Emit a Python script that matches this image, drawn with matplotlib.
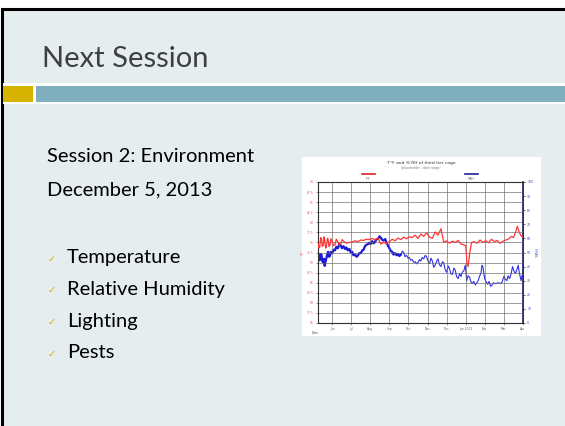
import matplotlib
matplotlib.use("Agg")
import matplotlib.pyplot as plt
from matplotlib.patches import Rectangle

# ---------------- data ----------------
slide_title = "Next Session"
session_line = "Session 2: Environment"
date_line = "December 5, 2013"
bullets = ["Temperature", "Relative Humidity", "Lighting", "Pests"]

chart_title = "T °F and % RH of third tier cage"
chart_subtitle = "(placeholder - date range)"
month_pos = [0, 1, 2, 3, 4, 5, 6, 7, 8, 9, 10]
month_labels = ["Jun", "Jul", "Aug", "Sep", "Oct", "Nov", "Dec", "Jan 2013", "Feb", "Mar", "Apr"]
temp_ticks = [55, 57.5, 60, 62.5, 65, 67.5, 70, 72.5, 75, 77.5, 80, 82.5, 85, 87.5, 90]
rh_ticks = [0, 10, 20, 30, 40, 50, 60, 70, 80, 90, 100]

temp_x = [-0.74, -0.69, -0.65, -0.60, -0.56, -0.52, -0.47, -0.43, -0.39, -0.34, -0.30, -0.25,
          -0.21, -0.16, -0.12, -0.06, 0.0, 0.08, 0.15, 0.22, 0.3, 0.38, 0.45, 0.52, 0.6,
          0.75, 0.9, 1.05, 1.2, 1.35, 1.5, 1.65, 1.8, 1.95, 2.1, 2.25, 2.4, 2.55, 2.7, 2.85,
          3.0, 3.15, 3.3, 3.45, 3.6, 3.75, 3.9, 4.05, 4.2, 4.35, 4.5, 4.65, 4.8, 4.95, 5.1,
          5.25, 5.4, 5.55, 5.7, 5.85, 6.0, 6.15, 6.3, 6.45, 6.6, 6.75, 6.9, 7.0, 7.06, 7.12,
          7.2, 7.3, 7.45, 7.6, 7.75, 7.9, 8.05, 8.2, 8.35, 8.5, 8.65, 8.8, 8.95, 9.1, 9.25,
          9.4, 9.5, 9.6, 9.7, 9.8, 9.9, 10.0]
temp_f = [75.0, 73.6, 73.8, 76.2, 76.0, 74.0, 74.2, 76.4, 75.6, 73.6, 73.9, 76.0,
          75.8, 74.0, 74.3, 75.9, 75.4, 74.2, 74.4, 75.8, 75.2, 74.3, 74.6, 75.7, 75.3,
          74.8, 75.0, 75.1, 75.4, 75.2, 75.6, 75.5, 75.8, 75.7, 76.0, 75.6, 76.1, 74.6, 75.0,
          74.7, 75.2, 75.8, 75.4, 76.1, 75.7, 76.3, 75.9, 76.4, 76.2, 76.8, 76.0, 77.1, 76.5,
          77.4, 76.3, 76.0, 77.6, 76.8, 78.4, 75.0, 75.4, 74.8, 75.3, 75.0, 75.5, 74.6, 74.4,
          74.2, 70.0, 69.0, 72.0, 75.0, 75.2, 74.8, 75.6, 75.0, 75.4, 74.9, 75.8, 75.2, 75.5,
          74.8, 75.3, 75.6, 75.9, 76.5, 76.2, 77.4, 79.0, 77.6, 76.6, 76.3]

rh_x = [-0.74, -0.70, -0.65, -0.60, -0.56, -0.52, -0.47, -0.43, -0.39, -0.34, -0.30, -0.25,
        -0.21, -0.16, -0.12, -0.06, 0.0, 0.08, 0.15, 0.22, 0.3, 0.38, 0.45, 0.52, 0.6, 0.68,
        0.75, 0.82, 0.9, 0.98, 1.05, 1.12, 1.2, 1.28, 1.35, 1.42, 1.5, 1.58, 1.65, 1.72, 1.8,
        1.88, 1.95, 2.02, 2.1, 2.18, 2.25, 2.32, 2.4, 2.48, 2.55, 2.62, 2.7, 2.78, 2.85, 2.92,
        3.0, 3.08, 3.15, 3.22, 3.3, 3.38, 3.45, 3.52, 3.6,
        3.68, 3.75, 3.82, 3.9, 3.98, 4.05, 4.12, 4.2, 4.28, 4.35, 4.42, 4.5, 4.58, 4.65, 4.72,
        4.8, 4.88, 4.95, 5.02, 5.1, 5.18, 5.25, 5.32, 5.4, 5.48, 5.55, 5.62, 5.7, 5.78, 5.85,
        5.92, 6.0, 6.08, 6.15, 6.22, 6.3, 6.38, 6.45, 6.52, 6.6, 6.68, 6.75, 6.82, 6.9, 6.98,
        7.05, 7.12, 7.2, 7.28, 7.35, 7.42, 7.5, 7.58, 7.65, 7.72, 7.8, 7.85, 7.9, 7.95, 8.0,
        8.08, 8.15, 8.22, 8.3, 8.38, 8.45, 8.52, 8.6, 8.68, 8.75, 8.82, 8.9, 8.95, 9.0, 9.08,
        9.15, 9.22, 9.3, 9.38, 9.45, 9.52, 9.6, 9.68, 9.75, 9.8, 9.85, 9.9, 9.95, 10.0]
rh_pct = [50.0, 46.5, 44.5, 49.0, 48.5, 44.0, 43.0, 45.5, 40.5, 44.0, 46.0, 49.0,
          50.5, 47.0, 47.5, 50.5, 49.5, 52.0, 51.5, 54.0, 53.0, 56.0, 55.0, 53.0, 54.5, 52.5,
          53.5, 51.5, 52.5, 50.0, 50.5, 48.0, 48.5, 47.0, 47.8, 49.5, 49.5, 51.5, 52.0, 54.5, 55.5,
          56.0, 57.0, 56.0, 58.0, 56.5, 57.5, 59.5, 59.5, 61.5, 60.5, 59.0, 58.5, 59.5, 57.0, 55.0,
          53.0, 51.0, 50.5, 48.5, 49.5, 48.0, 49.0, 47.5, 48.5,
          51.0, 50.0, 47.0, 48.0, 46.0, 46.5, 44.5, 45.0, 43.0, 43.5, 42.0, 43.0, 45.0, 44.0, 46.5,
          45.5, 48.0, 47.0, 44.0, 42.0, 46.0, 44.0, 39.5, 41.0, 44.0, 45.5, 41.5, 40.0, 43.5, 42.5,
          38.0, 36.0, 40.5, 38.5, 35.0, 34.5, 39.0, 37.5, 33.0, 31.5, 35.0, 33.0, 36.0, 37.0, 41.0,
          30.0, 33.5, 32.5, 29.0, 28.0, 29.5, 27.0, 28.5, 30.0, 33.0, 35.5, 41.0, 40.0, 35.0, 31.0,
          29.0, 27.5, 29.5, 26.0, 27.0, 28.5, 28.0, 28.0, 28.5, 28.3, 28.0, 29.0, 31.0, 33.0, 31.0,
          30.0, 33.5, 31.5, 35.0, 40.0, 37.0, 35.0, 38.0, 41.0, 36.0, 33.0, 30.0, 34.0, 32.0]
n_dense = 65  # first part of the RH record plotted as a dense, thick band

# ---------------- colours ----------------
bg_col = "#E5EDEF"
teal = "#7FAFBD"
gold = "#D4B400"
W, H = 565, 426

fig = plt.figure(figsize=(W / 100, H / 100), dpi=100)
fig.patch.set_facecolor("white")
bg = fig.add_axes([0, 0, 1, 1])
bg.set_xlim(0, W)
bg.set_ylim(H, 0)
bg.axis("off")

# slide background with black border (top and left visible)
bg.add_patch(Rectangle((1.5, 9), W + 10, H + 10, facecolor=bg_col, edgecolor="black", lw=2.2))
bg.add_patch(Rectangle((3, 83), W, 21, facecolor="white", edgecolor="none"))
bg.add_patch(Rectangle((3, 86), 30, 16, facecolor=gold, edgecolor="none"))
bg.add_patch(Rectangle((36, 86), W, 16, facecolor=teal, edgecolor="none"))

fam = ["Lato", "DejaVu Sans"]
bg.text(42, 67, slide_title, fontsize=21, color="#3F3F3F", family=fam, va="baseline", ha="left")
bg.text(47, 157, session_line, fontsize=14.5, color="black", family=fam, va="center", ha="left")
bg.text(47, 190, date_line, fontsize=14.5, color="black", family=fam, va="center", ha="left")
for i, b in enumerate(bullets):
    y = 258 + i * 31.5
    bg.text(52, y + 1, "✓", fontsize=7, color=gold, family=["DejaVu Sans"], va="center", ha="center")
    bg.text(67, y, b, fontsize=14.5, color="black", family=fam, va="center", ha="left")

# embedded chart picture background
bg.add_patch(Rectangle((302, 157), 239, 179, facecolor="white", edgecolor="none"))
bg.text(421, 163, chart_title, fontsize=3.2, color="#333333", ha="center", va="center")
bg.text(421, 168, chart_subtitle, fontsize=2.2, color="#777777", ha="center", va="center")
bg.plot([362, 375], [174, 174], color="#E02020", lw=1.2)
bg.plot([465, 478], [174, 174], color="#202090", lw=1.2)
bg.text(368, 178.5, "T°F", fontsize=2, color="#555555", ha="center", va="center")
bg.text(471, 178.5, "%RH", fontsize=2, color="#555555", ha="center", va="center")
bg.text(315, 333, "Date", fontsize=2.2, color="#555555", ha="center", va="center")

# ---------------- chart axes ----------------
ax = fig.add_axes([318 / W, (H - 323) / H, (523 - 318) / W, (323 - 182) / H])
ax.set_xlim(-0.74, 10.0)
ax.set_ylim(temp_ticks[0], temp_ticks[-1])
ax.set_xticks(month_pos)
ax.set_xticklabels(month_labels, fontsize=2.2)
ax.set_yticks(temp_ticks)
ax.set_yticklabels([f"{t:g}" for t in temp_ticks], fontsize=2.2)
ax.tick_params(length=1.5, width=0.4, pad=1.5, colors="#444444")
for lab in ax.get_yticklabels():
    lab.set_color("#FF5050")
for lab in ax.get_xticklabels():
    lab.set_color("#666666")
ax.grid(True, color="#666666", lw=0.45)
ax.set_axisbelow(True)
for s in ax.spines.values():
    s.set_color("#333333")
    s.set_linewidth(0.7)
ax.set_ylabel("°F", fontsize=3, color="#FF4040", labelpad=2)

ax2 = ax.twinx()
ax2.set_ylim(rh_ticks[0], rh_ticks[-1])
ax2.set_yticks(rh_ticks)
ax2.set_yticklabels([f"{t}" for t in rh_ticks], fontsize=2.2, color="#4040C0")
ax2.tick_params(length=1.5, width=0.4, pad=1.5)
ax2.spines["right"].set_color("#202060")
ax2.spines["right"].set_linewidth(1.2)
ax2.set_ylabel("%RH", fontsize=3, color="#4040D0", labelpad=2)

ax2.plot(rh_x, rh_pct, color="#3030E8", lw=0.8, zorder=3)
ax2.plot(rh_x[:n_dense], rh_pct[:n_dense], color="#1A1AD8", lw=1.6, zorder=3)
ax.plot(temp_x, temp_f, color="#FF3535", lw=0.9, zorder=4)

ax2.set_zorder(1)
ax.set_zorder(2)
ax.patch.set_visible(False)
ax2.patch.set_visible(True)
ax2.patch.set_facecolor("white")

fig.savefig("out.png", dpi=100, facecolor=fig.get_facecolor())
